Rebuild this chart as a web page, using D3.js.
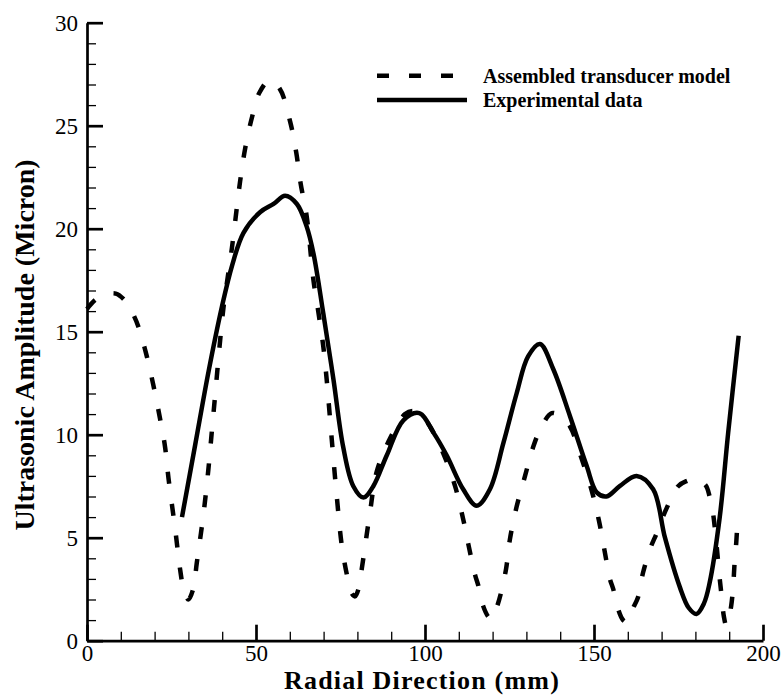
<!DOCTYPE html>
<html>
<head>
<meta charset="utf-8">
<script src="https://cdn.jsdelivr.net/npm/d3@7"></script>
<style>
  html, body { margin: 0; padding: 0; background: #fff; }
  svg { display: block; }
  svg text { font-family: "Liberation Serif", "Times New Roman", serif !important; fill: #000; }
</style>
</head>
<body>
<svg id="chart" width="781" height="695"></svg>
<script>
// ---- data ----
const modelX = [0, 2.5, 5.5, 8.5, 11.3, 13.5, 15.3, 17.7, 19.7, 21.7, 23.1, 24.1, 26.1, 27.6, 28.6, 30, 31.4, 32.5, 34.5, 35.9, 36.9, 37.9, 39.4, 40.4, 42.9, 45.3, 46.8, 48.8, 51, 54, 57, 60.1, 61.9, 63.2, 65, 67, 68.5, 69.9, 70.9, 72.4, 73.9, 75.4, 76.9, 78.3, 79.3, 80.3, 81.3, 83.7, 85.7, 89.6, 94.1, 96.5, 99, 101.5, 105.4, 108.9, 111.3, 112.8, 114.8, 115.8, 117.2, 118.7, 119.8, 121.2, 122.6, 124, 125.1, 127.1, 129.6, 132, 134.5, 137.5, 140, 142.9, 146, 149.3, 151.5, 153.2, 154.7, 155.7, 157.1, 158.6, 159.8, 161.6, 163, 164.5, 166.7, 168.5, 171.4, 174.9, 177.4, 180, 183, 184.2, 185.2, 185.8, 186.4, 187.2, 187.8, 188.4, 189.1, 189.8, 190.6, 191.2, 191.6, 192.1, 192.6];
const modelY = [16.1, 16.55, 16.8, 16.85, 16.5, 15.9, 15.2, 13.8, 12.35, 10.7, 9.4, 7.9, 5.4, 3.4, 2.5, 2.0, 2.5, 3.8, 6.2, 8.3, 10.1, 11.9, 14.6, 16.2, 19.1, 22.3, 23.9, 25.4, 26.6, 27.2, 26.8, 25.2, 23.7, 22.2, 20.6, 17.5, 15.9, 14.3, 12.7, 9.8, 7.0, 4.6, 3.2, 2.3, 2.15, 2.5, 3.5, 6.2, 8.2, 9.8, 11.0, 11.15, 10.95, 10.4, 9.1, 7.5, 5.9, 4.7, 3.2, 2.66, 1.69, 1.17, 1.05, 1.6, 2.4, 3.5, 4.9, 6.5, 8.0, 9.4, 10.4, 11.05, 10.9, 10.4, 9.0, 7.3, 5.8, 4.3, 3.0, 2.5, 1.55, 1.0, 0.9, 1.6, 2.1, 3.3, 4.5, 5.2, 6.4, 7.5, 7.75, 7.85, 7.55, 7.0, 6.2, 5.4, 4.4, 3.0, 2.1, 1.2, 0.75, 1.05, 1.7, 2.7, 3.8, 4.8, 6.2];

const expX = [28.1, 32, 36, 39.9, 42.9, 46.3, 51.2, 55.2, 58.6, 62.1, 65, 67, 69.9, 72.9, 75.8, 78.8, 81.8, 84.7, 88.7, 93.6, 98.3, 102.5, 106.4, 111.3, 115.3, 119.2, 123.2, 127.1, 130.5, 134, 137.9, 142.9, 147.8, 150.8, 153.7, 157.6, 162.6, 167.5, 171, 175.4, 178, 180.3, 182.5, 184.2, 187.2, 189.7, 192.8];
const expY = [6.0, 9.5, 13.1, 16.2, 18.2, 19.8, 20.8, 21.2, 21.6, 21.2, 20.1, 18.8, 15.9, 12.7, 9.4, 7.5, 6.95, 7.5, 9.0, 10.7, 11.05, 10.1, 9.0, 7.35, 6.55, 7.35, 9.6, 12.0, 13.8, 14.4, 13.2, 10.9, 8.5, 7.2, 7.0, 7.5, 8.0, 7.35, 5.0, 2.6, 1.6, 1.3, 1.8, 2.8, 6.0, 10.1, 14.8];

const xMajorTicks = [0, 50, 100, 150, 200];
const yMajorTicks = [0, 5, 10, 15, 20, 25, 30];
const seriesNames = ["Assembled transducer model", "Experimental data"];
const xTitle = "Radial Direction (mm)";
const yTitle = "Ultrasonic Amplitude (Micron)";

// ---- layout ----
const FONT = '"Liberation Serif", "Times New Roman", serif';
const svg = d3.select("#chart");
const x = d3.scaleLinear().domain([0, 200]).range([87, 763]);
const y = d3.scaleLinear().domain([0, 30]).range([640.7, 22.7]);

svg.append("rect").attr("width", 781).attr("height", 695).attr("fill", "#fff");

// curves
const line = d3.line().x(d => x(d[0])).y(d => y(d[1])).curve(d3.curveCatmullRom.alpha(0.5));
const modelData = modelX.map((v, i) => [v, modelY[i]]);
const expData = expX.map((v, i) => [v, expY[i]]);

svg.append("path").datum(modelData).attr("d", line)
  .attr("fill", "none").attr("stroke", "#000").attr("stroke-width", 4.5)
  .attr("stroke-dasharray", "12,20");
svg.append("path").datum(expData).attr("d", line)
  .attr("fill", "none").attr("stroke", "#000").attr("stroke-width", 4.5);

// axes
const yMinor = d3.range(0, 31, 1).filter(v => v % 5 !== 0);
const xMinor = d3.range(0, 201, 10).filter(v => v % 50 !== 0);

const gyMinor = svg.append("g").attr("transform", `translate(${x(0)},0)`)
  .call(d3.axisLeft(y).tickValues(yMinor).tickSize(-9).tickSizeOuter(0).tickFormat(""));
const gxMinor = svg.append("g").attr("transform", `translate(0,${y(0)})`)
  .call(d3.axisBottom(x).tickValues(xMinor).tickSize(-9).tickSizeOuter(0).tickFormat(""));
[gyMinor, gxMinor].forEach(g => {
  g.select(".domain").remove();
  g.selectAll(".tick line").attr("stroke", "#000").attr("stroke-width", 1.3);
});

const gy = svg.append("g").attr("transform", `translate(${x(0)},0)`)
  .call(d3.axisLeft(y).tickValues(yMajorTicks).tickSize(-16).tickSizeOuter(0).tickPadding(9).tickFormat(d3.format("d")));
const gx = svg.append("g").attr("transform", `translate(0,${y(0)})`)
  .call(d3.axisBottom(x).tickValues(xMajorTicks).tickSize(-16).tickSizeOuter(0).tickPadding(3.8).tickFormat(d3.format("d")));
[gy, gx].forEach(g => {
  g.attr("font-family", null).attr("font-size", null);
  g.select(".domain").attr("stroke", "#000").attr("stroke-width", 2.7);
  g.selectAll(".tick line").attr("stroke", "#000").attr("stroke-width", 2.7);
  g.selectAll(".tick text").style("font-family", FONT)
    .style("font-size", "23px").attr("fill", "#000");
});

// axis titles
svg.append("text").attr("x", 422).attr("y", 689).attr("text-anchor", "middle")
  .style("font-family", FONT).style("font-size", "26px").style("font-weight", "bold")
  .style("letter-spacing", "1.2px").text(xTitle);
svg.append("text").attr("transform", "translate(34,345) rotate(-90)").attr("text-anchor", "middle")
  .style("font-family", FONT).style("font-size", "28px").style("font-weight", "bold").text(yTitle);

// legend
const legend = svg.append("g");
legend.append("line").attr("x1", 377).attr("x2", 467).attr("y1", 75.7).attr("y2", 75.7)
  .attr("stroke", "#000").attr("stroke-width", 4.5).attr("stroke-dasharray", "12,20");
legend.append("line").attr("x1", 377).attr("x2", 467).attr("y1", 100).attr("y2", 100)
  .attr("stroke", "#000").attr("stroke-width", 4.5);
legend.append("text").attr("x", 483).attr("y", 83.3).style("font-family", FONT)
  .style("font-size", "20px").style("font-weight", "bold").text(seriesNames[0]);
legend.append("text").attr("x", 483).attr("y", 106.7).style("font-family", FONT)
  .style("font-size", "20px").style("font-weight", "bold").text(seriesNames[1]);
</script>
</body>
</html>
